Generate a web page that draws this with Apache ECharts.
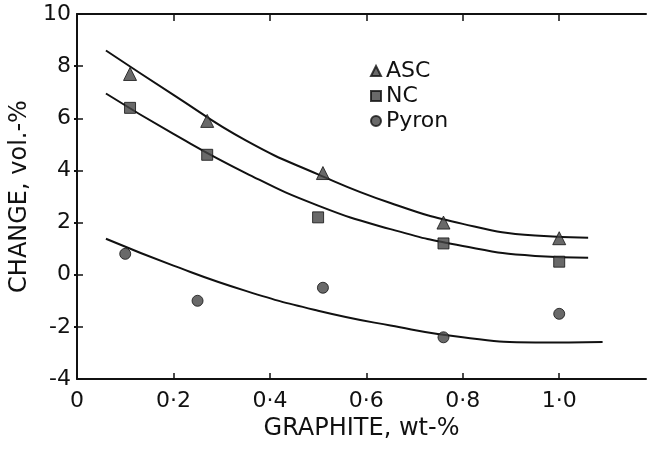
<!DOCTYPE html>
<html>
<head>
<meta charset="utf-8">
<script src="https://cdn.jsdelivr.net/npm/echarts@6/dist/echarts.min.js"></script>
<style>
    html, body { margin: 0; padding: 0; background: #fff; }
    #chart { width: 650px; height: 450px; }
</style>
</head>
<body>
<div id="chart"></div>
<script>
// measured points
const ascX = [0.11, 0.27, 0.51, 0.76, 1.0];
const ascY = [7.7, 5.9, 3.9, 2.0, 1.4];
const ncX = [0.11, 0.27, 0.5, 0.76, 1.0];
const ncY = [6.4, 4.6, 2.2, 1.2, 0.5];
const pyronX = [0.1, 0.25, 0.51, 0.76, 1.0];
const pyronY = [0.8, -1.0, -0.5, -2.4, -1.5];

// hand-drawn fit curves
const ascCurveX = [0.06, 0.2, 0.35, 0.5, 0.65, 0.8, 0.95, 1.06];
const ascCurveY = [8.6, 6.9, 5.15, 3.85, 2.75, 1.95, 1.5, 1.42];
const ncCurveX = [0.06, 0.2, 0.35, 0.5, 0.65, 0.8, 0.95, 1.06];
const ncCurveY = [6.95, 5.4, 3.9, 2.65, 1.75, 1.1, 0.72, 0.65];
const pyronCurveX = [0.06, 0.2, 0.35, 0.5, 0.65, 0.8, 0.95, 1.09];
const pyronCurveY = [1.38, 0.35, -0.62, -1.38, -1.95, -2.4, -2.6, -2.58];

const xTicks = [0, 0.2, 0.4, 0.6, 0.8, 1.0];
const yTicks = [-4, -2, 0, 2, 4, 6, 8, 10];

const zip = (xs, ys) => xs.map((x, i) => [x, ys[i]]);

const chart = echarts.init(document.getElementById('chart'));
const font = 'DejaVu Sans';
const ink = '#111';

function curve(name, xs, ys) {
    return {
        name: name,
        type: 'line',
        smooth: 0.5,
        showSymbol: false,
        silent: true,
        lineStyle: { color: ink, width: 2 },
        data: zip(xs, ys)
    };
}
function points(name, symbol, size, xs, ys) {
    return {
        name: name,
        type: 'scatter',
        symbol: symbol,
        symbolSize: size,
        itemStyle: { color: '#444', borderColor: ink, borderWidth: 1 },
        data: zip(xs, ys),
        z: 5
    };
}

const option = {
    animation: false,
    textStyle: { fontFamily: font },
    grid: { left: 77, right: 4, top: 14, bottom: 71, outerBoundsMode: 'none', containLabel: false },
    legend: {
        data: ['ASC', 'NC', 'Pyron'],
        orient: 'vertical',
        left: 365,
        top: 55,
        itemWidth: 10,
        itemHeight: 10,
        itemGap: 3,
        textStyle: { fontFamily: font, fontSize: 22, color: ink }
    },
    xAxis: [
        {
            type: 'value',
            min: 0,
            max: 1.18,
            interval: 0.2,
            name: 'GRAPHITE, wt-%',
            nameLocation: 'middle',
            nameGap: 38,
            nameTextStyle: { fontFamily: font, fontSize: 24, color: ink },
            axisLine: { onZero: false, lineStyle: { color: ink, width: 2 } },
            axisTick: { inside: true, length: 6, customValues: xTicks, lineStyle: { color: ink, width: 1.5 } },
            axisLabel: {
                fontSize: 22, color: ink, margin: 11, customValues: xTicks,
                formatter: v => (v === 0 ? '0' : v.toFixed(1).replace('.', '·'))
            },
            splitLine: { show: false }
        },
        {
            type: 'value',
            position: 'top',
            min: 0,
            max: 1.18,
            interval: 0.2,
            axisLine: { onZero: false, lineStyle: { color: ink, width: 2 } },
            axisTick: { inside: true, length: 7, customValues: xTicks, lineStyle: { color: ink, width: 1.5 } },
            axisLabel: { show: false },
            splitLine: { show: false }
        }
    ],
    yAxis: [
        {
            type: 'value',
            min: yTicks[0],
            max: yTicks[yTicks.length - 1],
            interval: 2,
            name: 'CHANGE, vol.-%',
            nameLocation: 'middle',
            nameGap: 43,
            nameTextStyle: { fontFamily: font, fontSize: 24, color: ink },
            axisLine: { onZero: false, lineStyle: { color: ink, width: 2 } },
            axisTick: { inside: true, length: 6, lineStyle: { color: ink, width: 1.5 } },
            axisLabel: { fontSize: 22, color: ink, margin: 6 },
            splitLine: { show: false }
        },
        {
            type: 'value',
            position: 'right',
            min: yTicks[0],
            max: yTicks[yTicks.length - 1],
            interval: 2,
            axisLine: { show: false },
            axisTick: { show: true, inside: true, length: 3, customValues: yTicks.slice(1, -1), lineStyle: { color: ink, width: 2 } },
            axisLabel: { show: false },
            splitLine: { show: false }
        }
    ],
    series: [
        curve('ascFit', ascCurveX, ascCurveY),
        curve('ncFit', ncCurveX, ncCurveY),
        curve('pyronFit', pyronCurveX, pyronCurveY),
        points('ASC', 'triangle', 13, ascX, ascY),
        points('NC', 'rect', 11, ncX, ncY),
        points('Pyron', 'circle', 11, pyronX, pyronY)
    ]
};

chart.setOption(option);
</script>
</body>
</html>
